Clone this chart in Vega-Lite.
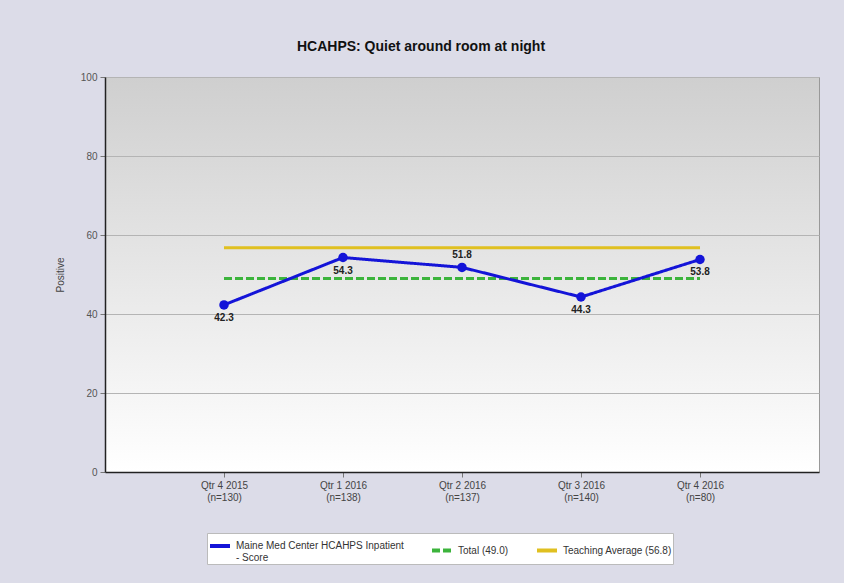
{
  "$schema": "https://vega.github.io/schema/vega-lite/v6.json",
  "width": 714,
  "height": 395,
  "autosize": {"type": "none"},
  "padding": {"left": 105, "top": 77, "right": 25, "bottom": 111},
  "background": "#dcdce8",
  "title": {"text": "HCAHPS: Quiet around room at night", "fontSize": 14, "fontWeight": "bold", "color": "#111111", "anchor": "middle", "dx": -41, "offset": 18},
  "datasets": {
    "main": [
      {"quarter": "Qtr 4 2015 (n=130)", "value": 42.3, "series": "Maine Med Center HCAHPS Inpatient - Score"},
      {"quarter": "Qtr 1 2016 (n=138)", "value": 54.3, "series": "Maine Med Center HCAHPS Inpatient - Score"},
      {"quarter": "Qtr 2 2016 (n=137)", "value": 51.8, "series": "Maine Med Center HCAHPS Inpatient - Score"},
      {"quarter": "Qtr 3 2016 (n=140)", "value": 44.3, "series": "Maine Med Center HCAHPS Inpatient - Score"},
      {"quarter": "Qtr 4 2016 (n=80)", "value": 53.8, "series": "Maine Med Center HCAHPS Inpatient - Score"}
    ],
    "ref": [
      {"quarter": "Qtr 4 2015 (n=130)", "value": 49.0, "series": "Total (49.0)"},
      {"quarter": "Qtr 1 2016 (n=138)", "value": 49.0, "series": "Total (49.0)"},
      {"quarter": "Qtr 2 2016 (n=137)", "value": 49.0, "series": "Total (49.0)"},
      {"quarter": "Qtr 3 2016 (n=140)", "value": 49.0, "series": "Total (49.0)"},
      {"quarter": "Qtr 4 2016 (n=80)", "value": 49.0, "series": "Total (49.0)"},
      {"quarter": "Qtr 4 2015 (n=130)", "value": 56.8, "series": "Teaching Average (56.8)"},
      {"quarter": "Qtr 1 2016 (n=138)", "value": 56.8, "series": "Teaching Average (56.8)"},
      {"quarter": "Qtr 2 2016 (n=137)", "value": 56.8, "series": "Teaching Average (56.8)"},
      {"quarter": "Qtr 3 2016 (n=140)", "value": 56.8, "series": "Teaching Average (56.8)"},
      {"quarter": "Qtr 4 2016 (n=80)", "value": 56.8, "series": "Teaching Average (56.8)"}
    ]
  },
  "encoding": {
    "x": {
      "field": "quarter", "type": "nominal", "sort": null,
      "scale": {"type": "point", "padding": 1},
      "axis": {"title": null, "labelAngle": 0, "labelExpr": "[substring(datum.label, 0, 10), substring(datum.label, 11)]", "labelFontSize": 10, "labelColor": "#444444", "labelPadding": 3, "domainColor": "#222222", "domainWidth": 1.5, "tickColor": "#777777", "tickSize": 5, "grid": false}
    },
    "y": {
      "field": "value", "type": "quantitative",
      "scale": {"domain": [0, 100], "nice": false},
      "axis": {"title": "Positive", "values": [0, 20, 40, 60, 80, 100], "labelFontSize": 10, "labelColor": "#555555", "labelPadding": 3, "titleFontSize": 10, "titleFontWeight": "normal", "titleColor": "#444444", "titlePadding": 15, "domainColor": "#222222", "domainWidth": 1.5, "tickColor": "#777777", "tickSize": 5, "gridColor": "#b4b4b4", "gridWidth": 1}
    }
  },
  "layer": [
    {
      "data": {"name": "ref"},
      "mark": {"type": "line", "strokeWidth": 3},
      "encoding": {
        "color": {"field": "series", "type": "nominal", "title": null,
          "scale": {"domain": ["Maine Med Center HCAHPS Inpatient - Score", "Total (49.0)", "Teaching Average (56.8)"], "range": ["#1414d8", "#3cb43c", "#e0c020"]},
          "legend": {"labelExpr": "datum.label == 'Maine Med Center HCAHPS Inpatient - Score' ? ['Maine Med Center HCAHPS Inpatient', '- Score'] : datum.label", "labelLimit": 300}},
        "strokeDash": {"field": "series", "type": "nominal", "title": null,
          "scale": {"domain": ["Maine Med Center HCAHPS Inpatient - Score", "Total (49.0)", "Teaching Average (56.8)"], "range": [[1, 0], [8, 3], [1, 0]]},
          "legend": {"labelExpr": "datum.label == 'Maine Med Center HCAHPS Inpatient - Score' ? ['Maine Med Center HCAHPS Inpatient', '- Score'] : datum.label", "labelLimit": 300}}
      }
    },
    {
      "data": {"name": "main"},
      "mark": {"type": "line", "strokeWidth": 3, "point": {"filled": true, "size": 90}},
      "encoding": {
        "color": {"field": "series", "type": "nominal", "title": null},
        "strokeDash": {"field": "series", "type": "nominal", "title": null}
      }
    },
    {
      "data": {"name": "main"},
      "transform": [{"filter": "datum.quarter != 'Qtr 2 2016 (n=137)'"}],
      "mark": {"type": "text", "dy": 13, "fontSize": 10, "fontWeight": "bold", "color": "#222222"},
      "encoding": {"text": {"field": "value", "type": "quantitative", "format": ".1f"}}
    },
    {
      "data": {"name": "main"},
      "transform": [{"filter": "datum.quarter == 'Qtr 2 2016 (n=137)'"}],
      "mark": {"type": "text", "dy": -12, "fontSize": 10, "fontWeight": "bold", "color": "#222222"},
      "encoding": {"text": {"field": "value", "type": "quantitative", "format": ".1f"}}
    }
  ],
  "config": {
    "font": "Liberation Sans",
    "view": {
      "fill": {"gradient": "linear", "x1": 0, "y1": 0, "x2": 0, "y2": 1, "stops": [{"offset": 0, "color": "#cfcfcf"}, {"offset": 1, "color": "#ffffff"}]},
      "stroke": "#999999"
    },
    "legend": {
      "orient": "none", "legendX": 102, "legendY": 456, "direction": "horizontal",
      "fillColor": "#ffffff", "strokeColor": "#bbbbbb", "padding": 1, "rowPadding": 0,
      "symbolType": "stroke", "symbolSize": 400, "symbolStrokeWidth": 4,
      "labelFontSize": 10, "labelColor": "#333333", "columnPadding": 20, "labelLimit": 300
    }
  }
}
